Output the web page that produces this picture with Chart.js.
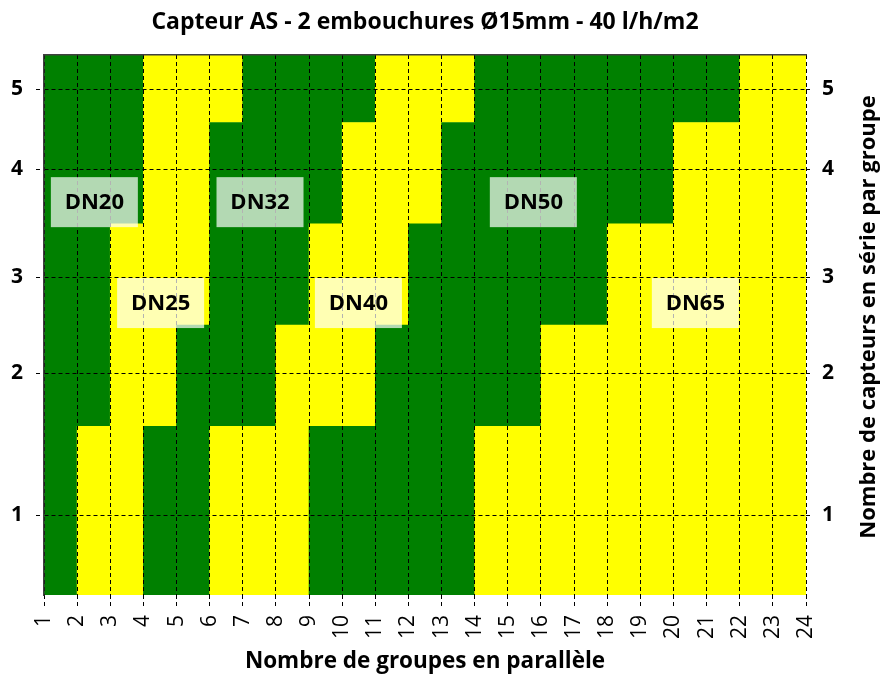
<!DOCTYPE html>
<html>
<head>
<meta charset="utf-8">
<script src="https://cdn.jsdelivr.net/npm/chart.js@4.4.0/dist/chart.umd.min.js"></script>
<style>
  html, body { margin: 0; padding: 0; background: #ffffff; }
</style>
</head>
<body>
<canvas id="chart" width="882" height="680"></canvas>
<script>
(function () {
  'use strict';

  /*--------- 1. DATA --------*/

  // x axis: number of groups in parallel (tick labels at column edges)
  const groupTicks = [1, 2, 3, 4, 5, 6, 7, 8, 9, 10, 11, 12, 13, 14, 15, 16, 17, 18, 19, 20, 21, 22, 23, 24];

  // y axis: collectors in series per group, and where Excel put each label
  const seriesTicks = [1, 2, 3, 4, 5];
  const seriesTickPos = [2.37, 6.57, 9.41, 12.61, 14.99];

  // row edges of the grid on the same (0..16) axis, bottom row first
  const rowEdges = [0, 5, 8, 11, 14, 16];

  // pipe sizes, largest first (stacked from the bottom of each column)
  const pipeNames = ['DN65', 'DN50', 'DN40', 'DN32', 'DN25', 'DN20'];

  // number of rows taken by each pipe size, one value per column (23 columns)
  const rowsDN65 = [0, 0, 0, 0, 0, 0, 0, 0, 0, 0, 0, 0, 0, 1, 1, 2, 2, 3, 3, 4, 4, 5, 5];
  const rowsDN50 = [0, 0, 0, 0, 0, 0, 0, 0, 1, 1, 2, 3, 4, 4, 4, 3, 3, 2, 2, 1, 1, 0, 0];
  const rowsDN40 = [0, 0, 0, 0, 0, 1, 1, 2, 2, 3, 3, 2, 1, 0, 0, 0, 0, 0, 0, 0, 0, 0, 0];
  const rowsDN32 = [0, 0, 0, 1, 2, 3, 4, 3, 2, 1, 0, 0, 0, 0, 0, 0, 0, 0, 0, 0, 0, 0, 0];
  const rowsDN25 = [0, 1, 3, 4, 3, 1, 0, 0, 0, 0, 0, 0, 0, 0, 0, 0, 0, 0, 0, 0, 0, 0, 0];
  const rowsDN20 = [5, 4, 2, 0, 0, 0, 0, 0, 0, 0, 0, 0, 0, 0, 0, 0, 0, 0, 0, 0, 0, 0, 0];

  // region labels: name, x (groups), y (0..16 axis)
  const labelNames = ['DN20', 'DN25', 'DN32', 'DN40', 'DN50', 'DN65'];
  const labelX = [2.52, 4.52, 7.52, 10.49, 15.77, 20.66];
  const labelY = [11.64, 8.65, 11.64, 8.65, 11.64, 8.65];

  const GREEN = '#008000';
  const YELLOW = '#ffff00';
  const pipeColors = [YELLOW, GREEN, YELLOW, GREEN, YELLOW, GREEN];

  const FONT = '"Open Sans"';

  /*--------- 2. FLOATING BARS, one dataset per pipe size --------*/

  const allRows = [rowsDN65, rowsDN50, rowsDN40, rowsDN32, rowsDN25, rowsDN20];
  const filled = allRows[0].map(function () { return 0; });

  const datasets = allRows.map(function (rows, k) {
    const points = [];
    rows.forEach(function (n, col) {
      const lo = filled[col];
      if (n > 0) {
        points.push({ x: groupTicks[col] + 0.5, y: [rowEdges[lo], rowEdges[lo + n]] });
      }
      filled[col] = lo + n;
    });
    return {
      label: pipeNames[k],
      data: points,
      backgroundColor: pipeColors[k],
      borderWidth: 0,
      grouped: false,
      barPercentage: 1,
      categoryPercentage: 1
    };
  });

  /*--------- 3. PLUGINS: region labels + right axis title --------*/

  const regionLabels = {
    id: 'regionLabels',
    afterDraw: function (chart) {
      const ctx = chart.ctx;
      const xs = chart.scales.x;
      const ys = chart.scales.y;
      ctx.save();
      ctx.font = 'bold 22px ' + FONT;
      ctx.textAlign = 'center';
      ctx.textBaseline = 'middle';
      labelNames.forEach(function (name, i) {
        const px = xs.getPixelForValue(labelX[i]);
        const py = ys.getPixelForValue(labelY[i]);
        ctx.fillStyle = 'rgba(255, 255, 255, 0.7)';
        ctx.fillRect(px - 43.5, py - 25, 87, 50);
        ctx.fillStyle = '#000000';
        ctx.fillText(name, px, py + 1);
      });

      // right-hand axis title, reading bottom to top
      const area = chart.chartArea;
      ctx.translate(chart.width - 13, (area.top + area.bottom) / 2 - 8);
      ctx.rotate(-Math.PI / 2);
      ctx.font = 'bold 22px ' + FONT;
      ctx.fillText('Nombre de capteurs en série par groupe', 0, 0);
      ctx.restore();
    }
  };

  /*--------- 4. CHART --------*/

  const dash = [4, 3];
  const setSeriesTicks = function (scale) {
    scale.ticks = seriesTickPos.map(function (v) { return { value: v }; });
  };
  const seriesLabel = function (value, index) { return String(seriesTicks[index]); };

  new Chart(document.getElementById('chart'), {
    type: 'bar',
    data: { datasets: datasets },
    plugins: [regionLabels],
    options: {
      responsive: false,
      animation: false,
      layout: { padding: 0 },
      plugins: {
        legend: { display: false },
        tooltip: { enabled: false },
        title: {
          display: true,
          fullSize: false,
          text: 'Capteur AS - 2 embouchures Ø15mm - 40 l/h/m2',
          color: '#000000',
          font: { family: FONT, size: 23, weight: 'bold', lineHeight: 1.2 },
          padding: { top: 8.2, bottom: 19.2 }
        }
      },
      scales: {
        x: {
          type: 'linear',
          position: 'bottom',
          offset: false,
          min: 1,
          max: 24,
          afterFit: function (s) { s.height = 85; },
          afterBuildTicks: function (s) {
            s.ticks = groupTicks.map(function (v) { return { value: v }; });
          },
          ticks: {
            autoSkip: false,
            maxRotation: 90,
            minRotation: 90,
            padding: 8,
            color: '#000000',
            font: { family: FONT, size: 21 }
          },
          grid: {
            z: 1,
            offset: false,
            color: '#000000',
            lineWidth: 1,
            tickLength: 12,
            tickBorderDash: dash
          },
          border: { display: false, dash: dash },
          title: {
            display: true,
            text: 'Nombre de groupes en parallèle',
            color: '#000000',
            font: { family: FONT, size: 22.5, weight: 'bold', lineHeight: 1.2 },
            padding: { top: 0, bottom: 5 }
          }
        },
        xTop: {
          type: 'linear',
          position: 'top',
          offset: false,
          min: 1,
          max: 24,
          afterFit: function (s) { s.height = 0; },
          ticks: { display: false },
          grid: { display: false },
          border: { display: true, color: '#404040', width: 1.5, z: 1 }
        },
        y: {
          type: 'linear',
          position: 'left',
          min: 0,
          max: 16,
          afterFit: function (s) { s.width = 44; },
          afterBuildTicks: setSeriesTicks,
          ticks: {
            callback: seriesLabel,
            padding: 13,
            color: '#000000',
            font: { family: FONT, size: 21, weight: 'bold' }
          },
          grid: {
            z: 1,
            color: '#000000',
            lineWidth: 1,
            tickLength: 8,
            tickBorderDash: dash
          },
          border: { display: true, color: '#404040', width: 1.5, dash: dash, z: 1 }
        },
        y2: {
          type: 'linear',
          position: 'right',
          min: 0,
          max: 16,
          afterFit: function (s) { s.width = 76; },
          afterBuildTicks: setSeriesTicks,
          ticks: {
            callback: seriesLabel,
            padding: 11,
            color: '#000000',
            font: { family: FONT, size: 21, weight: 'bold' }
          },
          grid: {
            z: 1,
            color: '#000000',
            lineWidth: 1,
            drawOnChartArea: false,
            tickLength: 5,
            tickBorderDash: dash
          },
          border: { display: false, dash: dash }
        }
      }
    }
  });

})();
</script>
</body>
</html>
